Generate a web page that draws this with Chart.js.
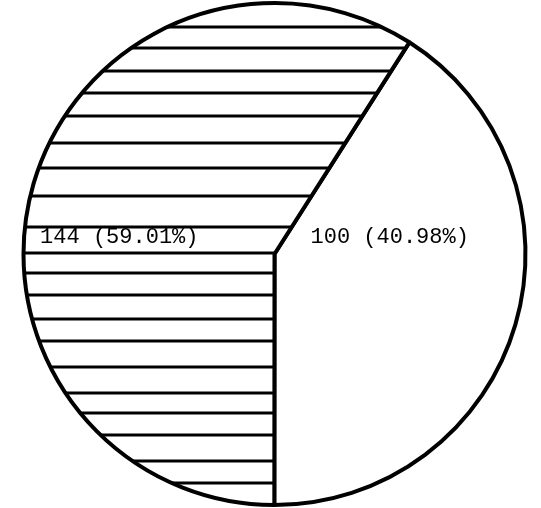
<!DOCTYPE html>
<html><head><meta charset="utf-8">
<script src="https://cdn.jsdelivr.net/npm/chart.js@4"></script>
<style>html,body{margin:0;padding:0;background:#fff;}</style>
</head><body>
<canvas id="c" width="541" height="508"></canvas>
<script>
// ---- data ----
const categories = ["100 (40.98%)", "144 (59.01%)"];
const values = [100, 144];
const valueLabels = ["100", "144"];
const percentLabels = ["40.98%", "59.01%"];

// ---- style ----
const hatchLineY = [27,48,71,93,116,143,168,196,227,253,273,295,319,341,367,393,413,435,461,483];

const canvas = document.getElementById('c');
const ctx = canvas.getContext('2d');
const pc = document.createElement('canvas');
pc.width = 16; pc.height = 508;
const g = pc.getContext('2d');
g.fillStyle = '#fff'; g.fillRect(0, 0, 16, 508);
g.fillStyle = '#000';
hatchLineY.forEach(y => g.fillRect(0, y - 1.5, 16, 3));
const hatch = ctx.createPattern(pc, 'repeat');

const labelPlugin = {
  id: 'sliceLabels',
  afterDatasetsDraw(chart) {
    const meta = chart.getDatasetMeta(0);
    const c = chart.ctx;
    c.save();
    c.font = '22px "Liberation Mono", "DejaVu Sans Mono", monospace';
    c.fillStyle = '#000';
    c.textBaseline = 'middle';
    meta.data.forEach((arc, i) => {
      const text = valueLabels[i] + ' (' + percentLabels[i] + ')';
      if (i === 0) {
        c.textAlign = 'left';
        c.fillText(text, arc.x + 36, arc.y - 17);
      } else {
        c.textAlign = 'right';
        c.fillText(text, arc.x - 76, arc.y - 17);
      }
    });
    c.restore();
  }
};

new Chart(ctx, {
  type: 'pie',
  data: {
    labels: categories,
    datasets: [{
      data: values,
      backgroundColor: ['#ffffff', hatch],
      borderColor: '#000000',
      borderWidth: 4,
      borderAlign: 'center'
    }]
  },
  options: {
    responsive: false,
    animation: false,
    rotation: 32.5,
    layout: { padding: { left: 8, right: 0, top: 1, bottom: 1 } },
    plugins: { legend: { display: false }, tooltip: { enabled: false } }
  },
  plugins: [labelPlugin]
});
</script>
</body></html>
